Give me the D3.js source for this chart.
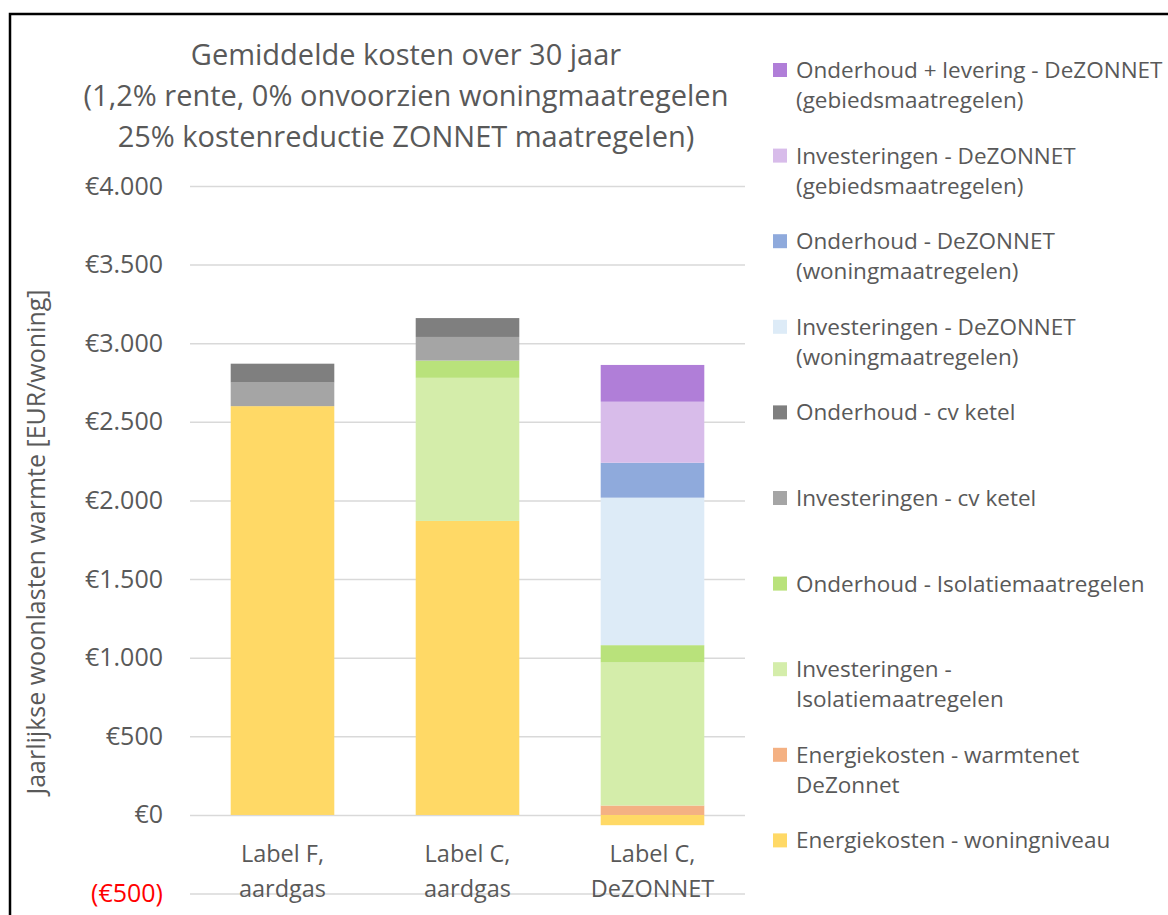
<!DOCTYPE html>
<html>
<head>
<meta charset="utf-8">
<script src="https://cdn.jsdelivr.net/npm/d3@7"></script>
<style>
  body { margin: 0; background: #fff; }
  text { font-family: "Open Sans", sans-serif; fill: #595959; }
</style>
</head>
<body>
<div id="chartHolder"></div>
<script>
const categories = [["Label F,", "aardgas"], ["Label C,", "aardgas"], ["Label C,", "DeZONNET"]];
const seriesNames = [
  "Energiekosten - woningniveau",
  "Energiekosten - warmtenet DeZonnet",
  "Investeringen - Isolatiemaatregelen",
  "Onderhoud - Isolatiemaatregelen",
  "Investeringen - cv ketel",
  "Onderhoud - cv ketel",
  "Investeringen - DeZONNET (woningmaatregelen)",
  "Onderhoud - DeZONNET (woningmaatregelen)",
  "Investeringen - DeZONNET (gebiedsmaatregelen)",
  "Onderhoud + levering - DeZONNET (gebiedsmaatregelen)"
];
const legendLines = [
  ["Energiekosten - woningniveau"],
  ["Energiekosten - warmtenet", "DeZonnet"],
  ["Investeringen -", "Isolatiemaatregelen"],
  ["Onderhoud - Isolatiemaatregelen"],
  ["Investeringen - cv ketel"],
  ["Onderhoud - cv ketel"],
  ["Investeringen - DeZONNET", "(woningmaatregelen)"],
  ["Onderhoud - DeZONNET", "(woningmaatregelen)"],
  ["Investeringen - DeZONNET", "(gebiedsmaatregelen)"],
  ["Onderhoud + levering - DeZONNET", "(gebiedsmaatregelen)"]
];
const energieWoning   = [2600, 1870, -65];
const energieWarmte   = [0, 0, 60];
const investIsolatie  = [0, 910, 910];
const onderhIsolatie  = [0, 110, 110];
const investCv        = [150, 150, 0];
const onderhCv        = [120, 120, 0];
const investZonWoning = [0, 0, 938];
const onderhZonWoning = [0, 0, 222];
const investZonGebied = [0, 0, 388];
const onderhZonGebied = [0, 0, 234];
const seriesValues = [energieWoning, energieWarmte, investIsolatie, onderhIsolatie, investCv,
                      onderhCv, investZonWoning, onderhZonWoning, investZonGebied, onderhZonGebied];
const colors = ["#FFD966", "#F4B183", "#D4EDAA", "#B9E27B", "#A5A5A5",
                "#7F7F7F", "#DDEBF7", "#8FAADC", "#D8BCEA", "#B07ED8"];
const yTicks = [-500, 0, 500, 1000, 1500, 2000, 2500, 3000, 3500, 4000];
const titleLines = ["Gemiddelde kosten over 30 jaar",
                    "(1,2% rente, 0% onvoorzien woningmaatregelen",
                    "25% kostenreductie ZONNET maatregelen)"];

const width = 1168, height = 915;
const svg = d3.select("#chartHolder").append("svg")
  .attr("width", width).attr("height", height);

// frame
svg.append("path")
  .attr("d", "M10,920 L10,14 L1175,14")
  .attr("fill", "none").attr("stroke", "#000").attr("stroke-width", 2.5);

const x = d3.scaleBand().domain(d3.range(categories.length))
  .range([190, 745]).paddingInner(0.44).paddingOuter(0.22);
const y = d3.scaleLinear().domain([-500, 4000]).range([893.6, 186]);

const loc = d3.formatLocale({decimal: ",", thousands: ".", grouping: [3], currency: ["€", ""]});
const fmt = loc.format("$,.0f");
const tickFmt = v => v < 0 ? "(" + fmt(-v) + ")" : fmt(v);

// gridlines + tick labels
const yAxis = d3.axisLeft(y).tickValues(yTicks).tickSize(-555).tickFormat(tickFmt).tickPadding(27);
const gy = svg.append("g").attr("transform", "translate(190,0)").call(yAxis);
gy.select(".domain").remove();
gy.selectAll(".tick line").attr("stroke", "#D9D9D9").attr("stroke-width", 1.5);
gy.selectAll(".tick text")
  .style("font-size", "25px")
  .style("font-family", "'Open Sans', sans-serif")
  .style("fill", d => d < 0 ? "#FF0000" : "#595959");

// stacked bars
const rows = categories.map((c, i) => {
  const r = {};
  seriesNames.forEach((s, j) => r[s] = seriesValues[j][i]);
  return r;
});
const stack = d3.stack().keys(seriesNames).offset(d3.stackOffsetDiverging)(rows);
svg.append("g").selectAll("g").data(stack).enter().append("g")
  .attr("fill", (d, i) => colors[i])
  .selectAll("rect").data(d => d).enter().append("rect")
  .attr("x", (d, i) => x(i))
  .attr("width", x.bandwidth())
  .attr("y", d => y(Math.max(d[0], d[1])))
  .attr("height", d => Math.abs(y(d[0]) - y(d[1])));

// category labels
const gx = svg.append("g");
categories.forEach((c, i) => {
  c.forEach((line, k) => {
    gx.append("text")
      .attr("x", x(i) + x.bandwidth() / 2)
      .attr("y", 862 + k * 35)
      .attr("text-anchor", "middle")
      .style("font-size", "23.5px")
      .text(line);
  });
});

// title
titleLines.forEach((t, k) => {
  svg.append("text")
    .attr("x", 406).attr("y", 65 + k * 41)
    .attr("text-anchor", "middle")
    .style("font-size", "29px")
    .text(t);
});

// y axis title
svg.append("text")
  .attr("transform", "translate(45,542) rotate(-90)")
  .attr("text-anchor", "middle")
  .style("font-size", "25px")
  .text("Jaarlijkse woonlasten warmte [EUR/woning]");

// legend (reverse order)
const legend = svg.append("g");
const order = d3.range(seriesNames.length).reverse();
order.forEach((si, k) => {
  const cy = 70 + k * 85.6;
  legend.append("rect")
    .attr("x", 773).attr("y", cy - 7).attr("width", 14).attr("height", 14)
    .attr("fill", colors[si]);
  legendLines[si].forEach((line, m) => {
    legend.append("text")
      .attr("x", 796).attr("y", cy + 8 + m * 30)
      .style("font-size", "22.5px")
      .text(line);
  });
});
</script>
</body>
</html>
